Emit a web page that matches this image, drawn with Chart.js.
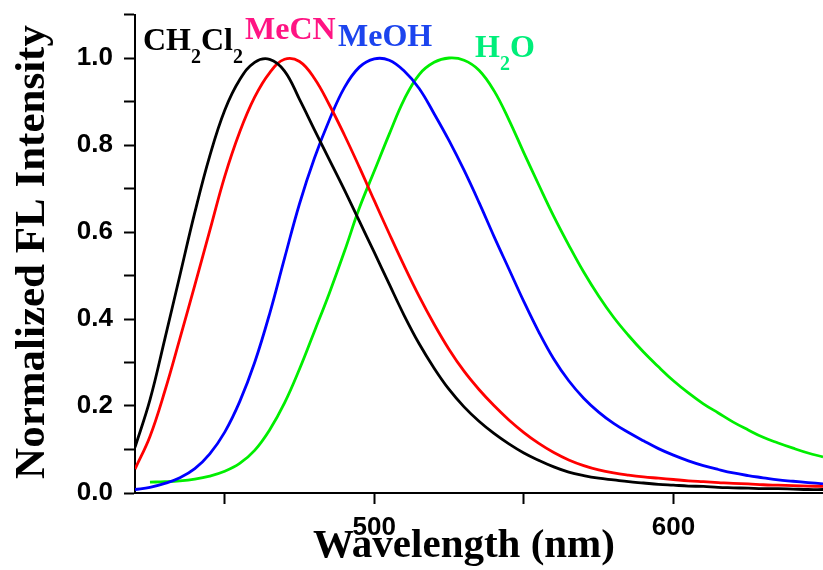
<!DOCTYPE html>
<html>
<head>
<meta charset="utf-8">
<title>Normalized FL Intensity</title>
<script src="https://cdn.jsdelivr.net/npm/chart.js@4.4.1/dist/chart.umd.min.js"></script>
<style>
  html, body { margin: 0; padding: 0; background: #fff; }
  #wrap { width: 823px; height: 570px; }
</style>
</head>
<body>
<div id="wrap"><canvas id="flChart" width="823" height="570"></canvas></div>
<script>
// ============================================================
// DATA
// ============================================================

const wavelengths = [
  420, 425, 430, 435, 440, 445, 450, 455, 460, 465,
  470, 475, 480, 485, 490, 495, 500, 505, 510, 515,
  520, 525, 530, 535, 540, 545, 550, 555, 560, 565,
  570, 575, 580, 585, 590, 595, 600, 605, 610, 615,
  620, 625, 630, 635, 640, 645, 650
];

const dcmIntensity = [
  0.105, 0.214, 0.355, 0.500, 0.645, 0.775, 0.880, 0.950, 0.990, 0.997,
  0.970, 0.905, 0.835, 0.766, 0.697, 0.625, 0.553, 0.480, 0.408, 0.343,
  0.287, 0.238, 0.198, 0.165, 0.137, 0.113, 0.092, 0.075, 0.060, 0.048,
  0.040, 0.034, 0.030, 0.026, 0.023, 0.020, 0.018, 0.016, 0.015, 0.013,
  0.012, 0.011, 0.010, 0.010, 0.009, 0.008, 0.008
];

const mecnIntensity = [
  0.055, 0.130, 0.235, 0.355, 0.478, 0.603, 0.728, 0.830, 0.910, 0.966,
  0.997, 0.992, 0.953, 0.892, 0.823, 0.749, 0.672, 0.596, 0.522, 0.452,
  0.388, 0.330, 0.280, 0.238, 0.201, 0.168, 0.139, 0.114, 0.093, 0.076,
  0.063, 0.053, 0.046, 0.041, 0.037, 0.034, 0.031, 0.028, 0.026, 0.024,
  0.022, 0.021, 0.019, 0.018, 0.017, 0.016, 0.015
];

const meohIntensity = [
  0.008, 0.013, 0.022, 0.035, 0.056, 0.090, 0.140, 0.210, 0.300, 0.412,
  0.540, 0.665, 0.770, 0.858, 0.932, 0.979, 0.998, 0.995, 0.970, 0.930,
  0.872, 0.810, 0.742, 0.668, 0.590, 0.515, 0.440, 0.370, 0.308, 0.258,
  0.218, 0.186, 0.160, 0.139, 0.120, 0.102, 0.087, 0.074, 0.063, 0.054,
  0.046, 0.040, 0.035, 0.030, 0.027, 0.024, 0.021
];

const waterIntensity = [
  null, 0.025, 0.026, 0.028, 0.032, 0.039, 0.050, 0.068, 0.098, 0.145,
  0.207, 0.285, 0.372, 0.460, 0.555, 0.655, 0.740, 0.825, 0.905, 0.962,
  0.990, 1.000, 0.995, 0.972, 0.925, 0.858, 0.782, 0.708, 0.636, 0.570,
  0.508, 0.453, 0.404, 0.362, 0.324, 0.290, 0.258, 0.230, 0.205, 0.184,
  0.163, 0.145, 0.128, 0.115, 0.103, 0.092, 0.083
];

const solventNames = ['CH2Cl2', 'MeCN', 'MeOH', 'H2O'];
const lineColors = ['#000000', '#ff0000', '#0000ff', '#00ee00'];
const nameColors = ['#000000', '#ff1483', '#1c44ee', '#00ee7a'];

const xTickValues = [450, 500, 550, 600];
const xLabelValues = [500, 600];
const yTickValues = [0, 0.1, 0.2, 0.3, 0.4, 0.5, 0.6, 0.7, 0.8, 0.9, 1.0, 1.1];

const xTitle = 'Wavelength (nm)';
const yTitle = 'Normalized FL Intensity';

// ============================================================
// TEXT HELPERS
// ============================================================
const serif = '"Liberation Serif", "Times New Roman", serif';
const sans = '"Liberation Sans", Arial, sans-serif';

// solvent names: digits are drawn as subscripts
function drawChemName(ctx, text, x, y) {
  let cx = x;
  for (const ch of text) {
    const isSub = /[0-9]/.test(ch);
    ctx.font = isSub ? 'bold 20px ' + serif : 'bold 32px ' + serif;
    ctx.fillText(ch, cx, isSub ? y + 13 : y);
    cx += ctx.measureText(ch).width;
  }
}

// where each solvent name sits (pixel anchor: left, baseline)
const nameSpots = [
  { x: 143, y: 50 },
  { x: 245, y: 39 },
  { x: 338, y: 46 },
  { x: 475, y: 57 }
];

const textPlugin = {
  id: 'flText',
  afterDraw(chart) {
    const ctx = chart.ctx;
    ctx.save();
    ctx.textAlign = 'left';
    ctx.textBaseline = 'alphabetic';
    solventNames.forEach((name, i) => {
      ctx.fillStyle = nameColors[i];
      drawChemName(ctx, name, nameSpots[i].x, nameSpots[i].y);
    });

    ctx.fillStyle = '#000';
    ctx.textAlign = 'center';
    ctx.font = 'bold 41px ' + serif;
    ctx.fillText(xTitle, 464, 557);

    ctx.translate(44, 252);
    ctx.rotate(-Math.PI / 2);
    ctx.font = 'bold 43px ' + serif;
    ctx.fillText(yTitle, 0, 0);
    ctx.restore();
  }
};

// ============================================================
// CHART
// ============================================================
const seriesValues = [dcmIntensity, mecnIntensity, meohIntensity, waterIntensity];

const axisCommon = {
  grid: { drawOnChartArea: false, drawTicks: true, tickLength: 11, tickWidth: 2, tickColor: '#000' },
  border: { display: true, color: '#000', width: 2 },
  ticks: { color: '#000', font: { family: sans, size: 26, weight: 'bold' }, maxRotation: 0, autoSkip: false }
};

new Chart(document.getElementById('flChart'), {
  type: 'line',
  data: {
    datasets: seriesValues.map((vals, i) => ({
      label: solventNames[i],
      data: vals.map((v, j) => ({ x: wavelengths[j], y: v })),
      borderColor: lineColors[i],
      backgroundColor: lineColors[i],
      borderWidth: 2.8,
      pointRadius: 0,
      fill: false,
      tension: 0.4
    }))
  },
  options: {
    responsive: false,
    animation: false,
    devicePixelRatio: 1,
    layout: { padding: { top: 14.5, right: 0, bottom: 0, left: 0 } },
    plugins: { legend: { display: false }, tooltip: { enabled: false } },
    scales: {
      x: {
        type: 'linear',
        min: 420,
        max: 650,
        grid: axisCommon.grid,
        border: axisCommon.border,
        ticks: { ...axisCommon.ticks, padding: 8, callback: v => xLabelValues.includes(v) ? String(v) : '' },
        afterBuildTicks: s => { s.ticks = xTickValues.map(v => ({ value: v })); },
        afterFit: s => { s.height = 77; s.paddingLeft = 0; s.paddingRight = 0; }
      },
      y: {
        min: 0,
        max: 1.1,
        grid: axisCommon.grid,
        border: axisCommon.border,
        ticks: { ...axisCommon.ticks, padding: 11, callback: v => Math.round(v * 10) % 2 === 0 ? v.toFixed(1) : '' },
        afterBuildTicks: s => { s.ticks = yTickValues.map(v => ({ value: v })); },
        afterFit: s => { s.width = 135; s.paddingTop = 0; s.paddingBottom = 0; }
      }
    }
  },
  plugins: [textPlugin]
});
</script>
</body>
</html>
